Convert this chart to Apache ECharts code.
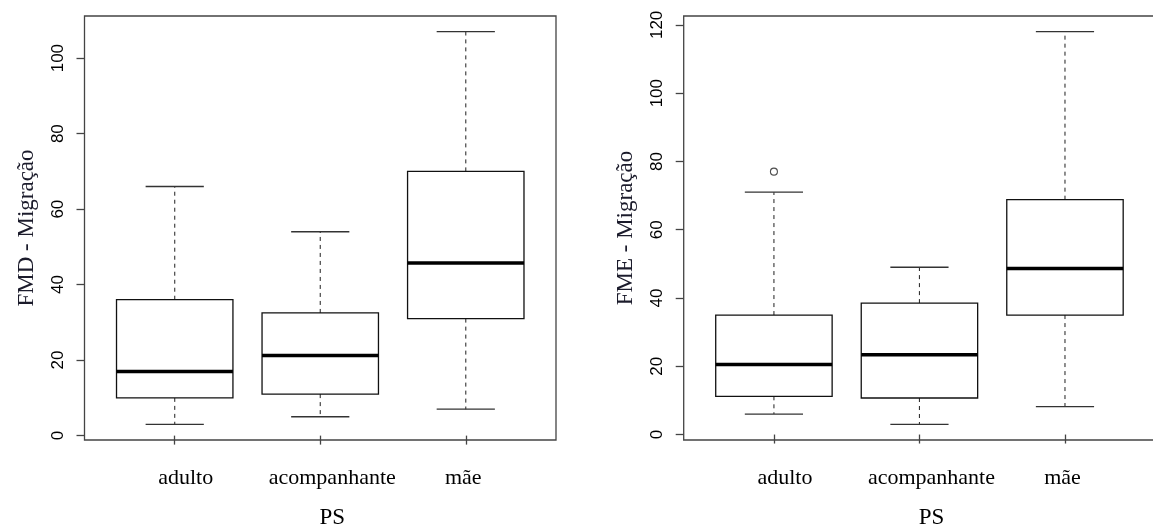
<!DOCTYPE html>
<html>
<head>
<meta charset="utf-8">
<script src="https://cdn.jsdelivr.net/npm/echarts@6/dist/echarts.min.js"></script>
<style>
html,body{margin:0;padding:0;background:#fff;}
#chart{width:1153px;height:527px;}
</style>
</head>
<body>
<div id="chart"></div>
<script>
// ---- data ----
const categories = ['adulto', 'acompanhante', 'mãe'];

const fmdLow  = [3, 5, 7];
const fmdQ1   = [10, 11, 31];
const fmdMed  = [17, 21.2, 45.7];
const fmdQ3   = [36, 32.5, 70];
const fmdHigh = [66, 54, 107];
const fmdOutliers = [];

const fmeLow  = [6, 3, 8.2];
const fmeQ1   = [11.2, 10.7, 35];
const fmeMed  = [20.5, 23.4, 48.6];
const fmeQ3   = [35, 38.5, 68.8];
const fmeHigh = [71, 49, 118];
const fmeOutliers = [[1, 77]];

const fmdTicks = [0, 20, 40, 60, 80, 100];
const fmeTicks = [0, 20, 40, 60, 80, 100, 120];
const catPositions = [1, 2, 3];

const fmdTitle = 'FMD - Migração';
const fmeTitle = 'FME - Migração';
const xTitle = 'PS';

// ---- helpers ----
function rows(low, q1, med, q3, high) {
  return catPositions.map((p, i) => [p, low[i], q1[i], med[i], q3[i], high[i]]);
}
function yRange(low, high, outl) {
  const vals = low.concat(high, outl.map(o => o[1]));
  const lo = Math.min.apply(null, vals), hi = Math.max.apply(null, vals);
  const pad = 0.04 * (hi - lo);
  return [lo - pad, hi + pad];
}
const xPad = 0.04 * categories.length;
const xMin = 0.5 - xPad, xMax = categories.length + 0.5 + xPad;

function renderBox(params, api) {
  const x = api.value(0);
  const pLow = api.coord([x, api.value(1)]);
  const pQ1 = api.coord([x, api.value(2)]);
  const pMed = api.coord([x, api.value(3)]);
  const pQ3 = api.coord([x, api.value(4)]);
  const pHigh = api.coord([x, api.value(5)]);
  const unit = api.size([1, 0])[0];
  const half = unit * 0.4;
  const cap = unit * 0.2;
  const cx = pMed[0];
  const dash = { stroke: '#333', lineWidth: 1.1, lineDash: [4, 4] };
  const capStyle = { stroke: '#333', lineWidth: 1.3 };
  return {
    type: 'group',
    children: [
      { type: 'line', shape: { x1: cx, y1: pQ3[1], x2: cx, y2: pHigh[1] }, style: dash },
      { type: 'line', shape: { x1: cx, y1: pQ1[1], x2: cx, y2: pLow[1] }, style: dash },
      { type: 'line', shape: { x1: cx - cap, y1: pHigh[1], x2: cx + cap, y2: pHigh[1] }, style: capStyle },
      { type: 'line', shape: { x1: cx - cap, y1: pLow[1], x2: cx + cap, y2: pLow[1] }, style: capStyle },
      { type: 'rect', shape: { x: cx - half, y: pQ3[1], width: 2 * half, height: pQ1[1] - pQ3[1] },
        style: { fill: '#fff', stroke: '#111', lineWidth: 1.3 } },
      { type: 'line', shape: { x1: cx - half, y1: pMed[1], x2: cx + half, y2: pMed[1] },
        style: { stroke: '#000', lineWidth: 3.5 } }
    ]
  };
}

const serif = 'Liberation Serif';
const sans = 'Liberation Sans';
const labelRich = {
  c1: { padding: [0, 0, 0, 22], fontFamily: serif, fontSize: 22, color: '#000' },
  c2: { padding: [0, 0, 0, 24], fontFamily: serif, fontSize: 22, color: '#000' },
  c3: { padding: [0, 5, 0, 0], fontFamily: serif, fontSize: 22, color: '#000' }
};

function xAxisFor(idx) {
  return {
    gridIndex: idx, type: 'value', min: xMin, max: xMax,
    axisLine: { show: false },
    splitLine: { show: false },
    axisTick: { show: true, customValues: catPositions, length: 9, lineStyle: { color: '#444', width: 1.3 } },
    axisLabel: {
      customValues: catPositions, margin: 27,
      fontFamily: serif, fontSize: 22, color: '#000',
      formatter: v => { const k = Math.round(v); return '{c' + k + '|' + categories[k - 1] + '}'; },
      rich: labelRich
    },
    name: xTitle, nameLocation: 'middle', nameGap: 66,
    nameTextStyle: { fontFamily: serif, fontSize: 23, color: '#000', padding: [0, 0, 0, 24] }
  };
}
function yAxisFor(idx, range, ticks, title) {
  return {
    gridIndex: idx, type: 'value', min: range[0], max: range[1],
    axisLine: { show: false },
    splitLine: { show: false },
    axisTick: { show: true, customValues: ticks, length: 8, lineStyle: { color: '#444', width: 1.3 } },
    axisLabel: { customValues: ticks, rotate: 90, margin: 18, fontFamily: sans, fontSize: 17, color: '#000' },
    name: title, nameLocation: 'middle', nameGap: 46,
    nameTextStyle: { fontFamily: serif, fontSize: 23, color: '#1b1b2b' }
  };
}

const fmdRange = yRange(fmdLow, fmdHigh, fmdOutliers);
const fmeRange = yRange(fmeLow, fmeHigh, fmeOutliers);

const chart = echarts.init(document.getElementById('chart'), null, { renderer: 'canvas' });
chart.setOption({
  backgroundColor: '#fff',
  animation: false,
  grid: [
    { left: 84.5, top: 16, width: 471.5, height: 424, outerBoundsMode: 'none', containLabel: false,
      show: true, borderColor: '#444', borderWidth: 1.3, backgroundColor: 'transparent' },
    { left: 683.7, top: 16, width: 471.5, height: 424, outerBoundsMode: 'none', containLabel: false,
      show: true, borderColor: '#444', borderWidth: 1.3, backgroundColor: 'transparent' }
  ],
  xAxis: [xAxisFor(0), xAxisFor(1)],
  yAxis: [yAxisFor(0, fmdRange, fmdTicks, fmdTitle), yAxisFor(1, fmeRange, fmeTicks, fmeTitle)],
  series: [
    { type: 'custom', xAxisIndex: 0, yAxisIndex: 0, renderItem: renderBox,
      data: rows(fmdLow, fmdQ1, fmdMed, fmdQ3, fmdHigh), encode: { x: 0, y: [1, 2, 3, 4, 5] } },
    { type: 'custom', xAxisIndex: 1, yAxisIndex: 1, renderItem: renderBox,
      data: rows(fmeLow, fmeQ1, fmeMed, fmeQ3, fmeHigh), encode: { x: 0, y: [1, 2, 3, 4, 5] } },
    { type: 'scatter', xAxisIndex: 0, yAxisIndex: 0, data: fmdOutliers, symbol: 'circle', symbolSize: 7, z: 5,
      itemStyle: { color: '#fff', borderColor: '#222', borderWidth: 1.1 } },
    { type: 'scatter', xAxisIndex: 1, yAxisIndex: 1, data: fmeOutliers, symbol: 'circle', symbolSize: 7, z: 5,
      itemStyle: { color: '#fff', borderColor: '#222', borderWidth: 1.1 } }
  ]
});
</script>
</body>
</html>
